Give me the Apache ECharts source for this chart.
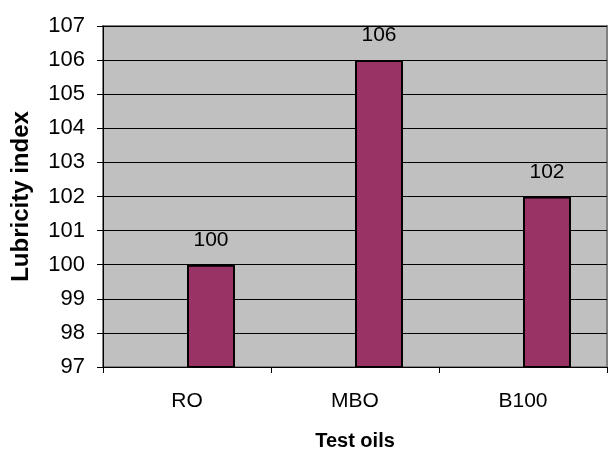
<!DOCTYPE html>
<html><head><meta charset="utf-8">
<script src="https://cdn.jsdelivr.net/npm/echarts@6/dist/echarts.min.js"></script>
<style>html,body{margin:0;padding:0;background:#fff}#c{width:610px;height:449px}</style>
</head><body><div id="c"></div>
<script>
const categories = ['RO', 'MBO', 'B100'];
const lubricity = [100, 106, 102];
const yTicks = [97, 98, 99, 100, 101, 102, 103, 104, 105, 106, 107];

const chart = echarts.init(document.getElementById('c'), null, {renderer: 'canvas'});
const font = '"Liberation Sans", Arial, sans-serif';
chart.setOption({
  animation: false,
  backgroundColor: '#ffffff',
  grid: {left: 103, right: 3, top: 26, bottom: 82, containLabel: false, outerBoundsMode: 'none',
         show: true, backgroundColor: '#C0C0C0', borderColor: '#808080', borderWidth: 2},
  xAxis: {
    type: 'category', data: categories,
    axisLine: {lineStyle: {color: '#000', width: 1}},
    axisTick: {show: true, length: 6, alignWithLabel: false, lineStyle: {color: '#000'}},
    axisLabel: {fontFamily: font, fontSize: 21, color: '#000', margin: 24},
    name: 'Test oils', nameLocation: 'middle', nameGap: 64,
    nameTextStyle: {fontFamily: font, fontSize: 20, fontWeight: 'bold', color: '#000'}
  },
  yAxis: {
    type: 'value', min: yTicks[0], max: yTicks[yTicks.length - 1], interval: 1,
    axisLine: {show: true, lineStyle: {color: '#000', width: 1}},
    axisTick: {show: true, length: 6, lineStyle: {color: '#000'}},
    axisLabel: {fontFamily: font, fontSize: 22, color: '#000', margin: 18},
    splitLine: {show: true, lineStyle: {color: '#000', width: 1}},
    name: 'Lubricity index', nameLocation: 'middle', nameGap: 70, nameRotate: 90,
    nameTextStyle: {fontFamily: font, fontSize: 24, fontWeight: 'bold', color: '#000'}
  },
  series: [
    {type: 'bar', data: categories.map(() => '-'), barWidth: 48, barGap: 0},
    {type: 'bar', data: lubricity, barWidth: 48, barGap: 0,
     itemStyle: {color: '#993366', borderColor: '#000', borderWidth: 2},
     label: {show: true, position: 'top', distance: 14, fontFamily: font, fontSize: 21, color: '#000'}}
  ]
});
</script></body></html>
